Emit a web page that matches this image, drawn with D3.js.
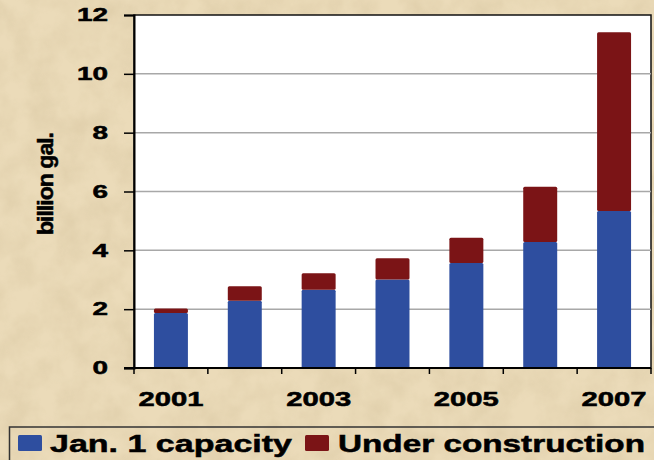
<!DOCTYPE html>
<html>
<head>
<meta charset="utf-8"/>
<script src="https://d3js.org/d3.v7.min.js"></script>
<style>
body { margin: 0; overflow: hidden; }
text { font-family: "Liberation Sans", Arial, sans-serif; font-weight: bold; fill: #000; stroke: #000; stroke-width: 0.5px; }
</style>
</head>
<body>
<svg id="svg" width="654" height="460"></svg>
<script>
// data
var years = ["2001", "2002", "2003", "2004", "2005", "2006", "2007"];
var capacity = [1.87, 2.29, 2.66, 3.01, 3.57, 4.28, 5.34];
var construction = [0.15, 0.49, 0.56, 0.72, 0.86, 1.88, 6.07];
var seriesNames = ["Jan. 1 capacity", "Under construction"];
var yTicks = [0, 2, 4, 6, 8, 10, 12];
var xLabels = ["2001", "2003", "2005", "2007"];

var colors = ["#2e4e9f", "#7b1416"];

var margin = { left: 134, right: 3, top: 15, bottom: 92 },
    W = 654, H = 460;

var svg = d3.select("#svg");

// parchment background
var defs = svg.append("defs");
var f = defs.append("filter").attr("id", "paper").attr("x", 0).attr("y", 0).attr("width", "100%").attr("height", "100%");
f.append("feTurbulence").attr("type", "fractalNoise").attr("baseFrequency", "0.035").attr("numOctaves", 4).attr("seed", 7);
f.append("feColorMatrix").attr("type", "matrix")
  .attr("values", "0 0 0 0 0.62  0 0 0 0 0.50  0 0 0 0 0.30  0 0 0 -1.1 0.75");
f.append("feComposite").attr("in2", "SourceGraphic").attr("operator", "in");

svg.append("rect").attr("width", W).attr("height", H).attr("fill", "#ebdbb9");
svg.append("rect").attr("width", W).attr("height", H).attr("fill", "#fff").attr("filter", "url(#paper)").attr("opacity", 0.55);

var x = d3.scaleBand().domain(years).range([margin.left, W - margin.right]).paddingInner(0.54).paddingOuter(0.27);
var y = d3.scaleLinear().domain([0, 12]).range([H - margin.bottom, margin.top]);

// plot area
svg.append("rect")
  .attr("x", margin.left).attr("y", y(12))
  .attr("width", W - margin.right - margin.left).attr("height", y(0) - y(12))
  .attr("fill", "#fff").attr("stroke", "#111").attr("stroke-width", 1.5);

// gridlines
svg.append("g").selectAll("line")
  .data(yTicks.filter(function(d){ return d > 0 && d < 12; }))
  .enter().append("line")
  .attr("x1", margin.left).attr("x2", W - margin.right)
  .attr("y1", function(d){ return y(d); }).attr("y2", function(d){ return y(d); })
  .attr("stroke", "#a8a8a8").attr("stroke-width", 1.5);

// stacked bars
var stackData = years.map(function(yr, i){ return { year: yr, a: capacity[i], b: construction[i] }; });
var stacked = d3.stack().keys(["a", "b"])(stackData);

svg.append("g").selectAll("g")
  .data(stacked).enter().append("g")
  .attr("fill", function(d, i){ return colors[i]; })
  .selectAll("rect")
  .data(function(d){ return d; })
  .enter().append("rect")
  .attr("x", function(d){ return x(d.data.year); })
  .attr("width", x.bandwidth())
  .attr("y", function(d){ return y(d[1]); })
  .attr("height", function(d){ return y(d[0]) - y(d[1]); })
  .attr("rx", 1.5);

// y axis
var yAxis = d3.axisLeft(y).tickValues(yTicks).tickSize(10).tickPadding(16);
var yAxisG = svg.append("g").attr("transform", "translate(" + margin.left + ",0)").call(yAxis);
yAxisG.select(".domain").attr("stroke", "#000").attr("stroke-width", 2);
yAxisG.selectAll(".tick line").attr("stroke", "#000").attr("stroke-width", 1.5);
yAxisG.selectAll(".tick text")
  .style("font-size", "18px")
  .style("font-family", "'Liberation Sans', Arial, sans-serif")
  .style("font-weight", "bold")
  .attr("fill", "#000")
  .attr("textLength", function(d){ return String(d).length * 15.5; })
  .attr("lengthAdjust", "spacingAndGlyphs");

// x axis: ticks at band boundaries, labels on odd years
var bounds = d3.range(years.length + 1).map(function(i){ return margin.left + i * (W - margin.right - margin.left) / years.length; });
var xAxisG = svg.append("g");
xAxisG.append("line")
  .attr("x1", margin.left - 10).attr("x2", W - margin.right)
  .attr("y1", y(0)).attr("y2", y(0))
  .attr("stroke", "#000").attr("stroke-width", 2);
xAxisG.selectAll(".tk").data(bounds).enter().append("line")
  .attr("x1", function(d){ return d; }).attr("x2", function(d){ return d; })
  .attr("y1", y(0)).attr("y2", y(0) + 6)
  .attr("stroke", "#000").attr("stroke-width", 1.5);
xAxisG.selectAll(".lbl").data(xLabels).enter().append("text")
  .attr("x", function(d){ return x(d) + x.bandwidth() / 2 - 32.5; })
  .attr("y", y(0) + 38)
  .style("font-size", "19.5px")
  .attr("textLength", 65)
  .attr("lengthAdjust", "spacingAndGlyphs")
  .text(function(d){ return d; });

// y title
svg.append("text")
  .attr("transform", "translate(53,235) rotate(-90)")
  .style("font-size", "22px")
  .style("letter-spacing", "-1px")
  .attr("textLength", 102)
  .attr("lengthAdjust", "spacingAndGlyphs")
  .text("billion gal.");

// legend
var legend = svg.append("g");
legend.append("rect")
  .attr("x", 9.5).attr("y", 427).attr("width", 660).attr("height", 40)
  .attr("fill", "none").attr("stroke", "#333").attr("stroke-width", 1.5);
var legX = [18, 305], legTextX = [50, 338], legLen = [242, 307];
seriesNames.forEach(function(name, i){
  legend.append("rect")
    .attr("x", legX[i]).attr("y", 435).attr("width", 24).attr("height", 16)
    .attr("rx", 1.5).attr("fill", colors[i]);
  legend.append("text")
    .attr("x", legTextX[i]).attr("y", 452)
    .style("font-size", "24px")
    .attr("textLength", legLen[i])
    .attr("lengthAdjust", "spacingAndGlyphs")
    .text(name);
});
</script>
</body>
</html>
